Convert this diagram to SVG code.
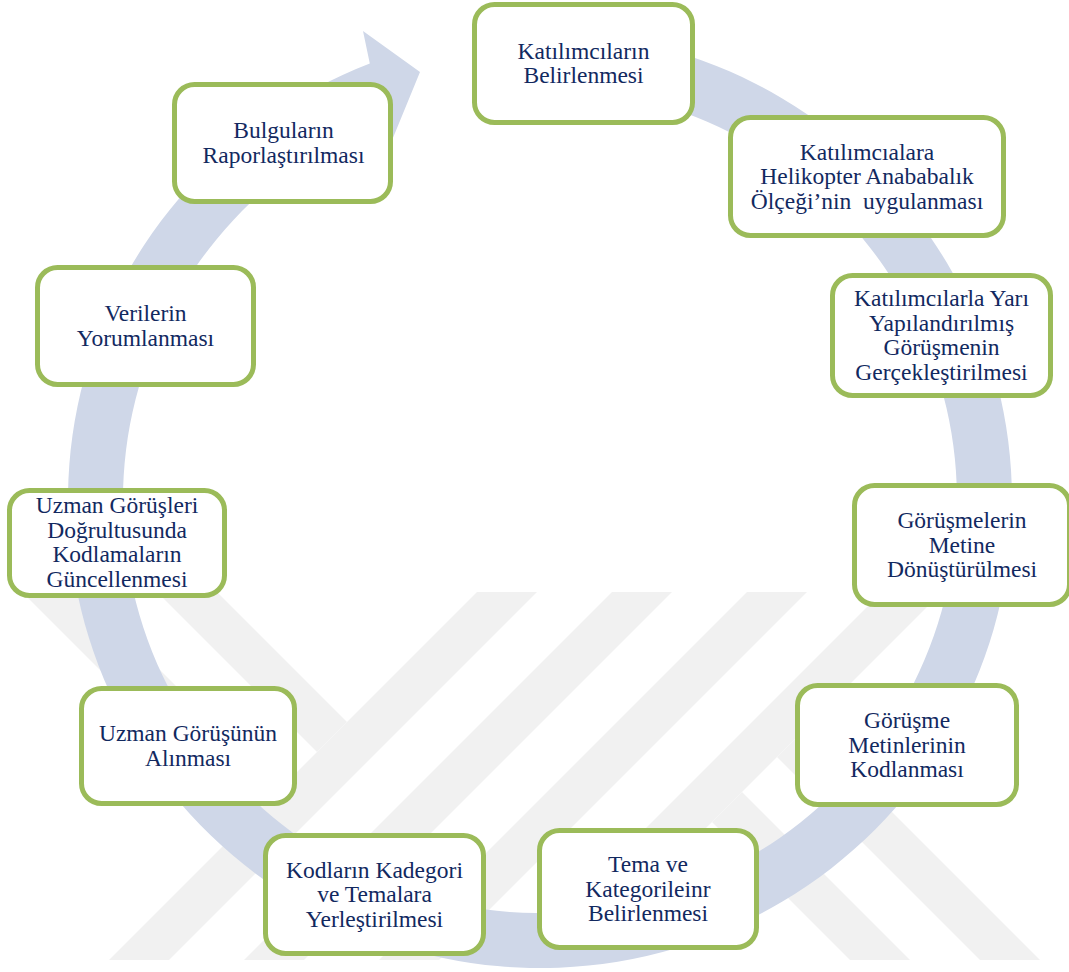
<svg xmlns="http://www.w3.org/2000/svg" width="1069" height="972" viewBox="0 0 1069 972">
  <style>
    .wm { fill: #f1f1f1; }
    .ring { fill: #cfd7e8; }
    .box { fill: #ffffff; stroke: #9bbb59; stroke-width: 5; }
    .lbl { font-size: 23.5px; fill: #12295f; text-anchor: middle; white-space: pre; }
  </style>
  <rect x="0" y="0" width="1069" height="972" fill="#ffffff"/>
  <g id="watermark">
    <polygon class="wm" points="22,592 82,592 279.5,789.5 249.5,819.5"/>
    <polygon class="wm" points="157,592 217,592 347,722 317,752"/>
    <polygon class="wm" points="477,592 537,592 169,960 109,960"/>
    <polygon class="wm" points="612,592 672,592 304,960 244,960"/>
    <polygon class="wm" points="747,592 807,592 439,960 379,960"/>
    <polygon class="wm" points="882,592 942,592 574,960 514,960"/>
    <polygon class="wm" points="712,822 742,792 910,960 850,960"/>
    <polygon class="wm" points="777,757 807,727 1040,960 980,960"/>
  </g>
  <g id="connectors">
    <path class="ring" d="M 498.9 33.8 A 472 468 0 1 1 369.8 63.5 L 363 31 L 420 72 L 388 150 L 381.3 118.1 A 417 413 0 1 0 503.7 88.6 Z"/>
  </g>
  <g font-family="'Liberation Serif', 'DejaVu Serif', serif">
  <g id="n1">
    <rect class="box" x="474.5" y="4.5" width="218" height="118" rx="20"/>
    <text class="lbl" x="583.5" y="58.75">Katılımcıların</text>
    <text class="lbl" x="583.5" y="83.25">Belirlenmesi</text>
  </g>
  <g id="n2">
    <rect class="box" x="730.5" y="117.5" width="273" height="118" rx="20"/>
    <text class="lbl" x="867" y="159.5">Katılımcıalara</text>
    <text class="lbl" x="867" y="184">Helikopter Anababalık</text>
    <text class="lbl" x="867" y="208.5">Ölçeği’nin  uygulanması</text>
  </g>
  <g id="n3">
    <rect class="box" x="832.5" y="275.5" width="218" height="120" rx="20"/>
    <text class="lbl" x="941.5" y="306.25">Katılımcılarla Yarı</text>
    <text class="lbl" x="941.5" y="330.75">Yapılandırılmış</text>
    <text class="lbl" x="941.5" y="355.25">Görüşmenin</text>
    <text class="lbl" x="941.5" y="379.75">Gerçekleştirilmesi</text>
  </g>
  <g id="n4">
    <rect class="box" x="854.5" y="485.5" width="215" height="119" rx="20"/>
    <text class="lbl" x="962" y="528">Görüşmelerin</text>
    <text class="lbl" x="962" y="552.5">Metine</text>
    <text class="lbl" x="962" y="577">Dönüştürülmesi</text>
  </g>
  <g id="n5">
    <rect class="box" x="797.5" y="685.5" width="219" height="119" rx="20"/>
    <text class="lbl" x="907" y="728">Görüşme</text>
    <text class="lbl" x="907" y="752.5">Metinlerinin</text>
    <text class="lbl" x="907" y="777">Kodlanması</text>
  </g>
  <g id="n6">
    <rect class="box" x="539.5" y="830.5" width="217" height="117" rx="20"/>
    <text class="lbl" x="648" y="872">Tema ve</text>
    <text class="lbl" x="648" y="896.5">Kategorileinr</text>
    <text class="lbl" x="648" y="921">Belirlenmesi</text>
  </g>
  <g id="n7">
    <rect class="box" x="265.5" y="835.5" width="218" height="118" rx="20"/>
    <text class="lbl" x="374.5" y="877.5">Kodların Kadegori</text>
    <text class="lbl" x="374.5" y="902">ve Temalara</text>
    <text class="lbl" x="374.5" y="926.5">Yerleştirilmesi</text>
  </g>
  <g id="n8">
    <rect class="box" x="81.5" y="688.5" width="213" height="115" rx="20"/>
    <text class="lbl" x="188" y="741.25">Uzman Görüşünün</text>
    <text class="lbl" x="188" y="765.75">Alınması</text>
  </g>
  <g id="n9">
    <rect class="box" x="9.5" y="490.5" width="215" height="105" rx="20"/>
    <text class="lbl" x="117" y="513.25">Uzman Görüşleri</text>
    <text class="lbl" x="117" y="537.75">Doğrultusunda</text>
    <text class="lbl" x="117" y="562.25">Kodlamaların</text>
    <text class="lbl" x="117" y="586.75">Güncellenmesi</text>
  </g>
  <g id="n10">
    <rect class="box" x="37.5" y="267.5" width="216" height="117" rx="20"/>
    <text class="lbl" x="145.5" y="321.25">Verilerin</text>
    <text class="lbl" x="145.5" y="345.75">Yorumlanması</text>
  </g>
  <g id="n11">
    <rect class="box" x="174.5" y="84.5" width="216" height="117" rx="20"/>
    <text class="lbl" x="283.5" y="138.25">Bulguların</text>
    <text class="lbl" x="283.5" y="162.75">Raporlaştırılması</text>
  </g>
  </g>
</svg>
